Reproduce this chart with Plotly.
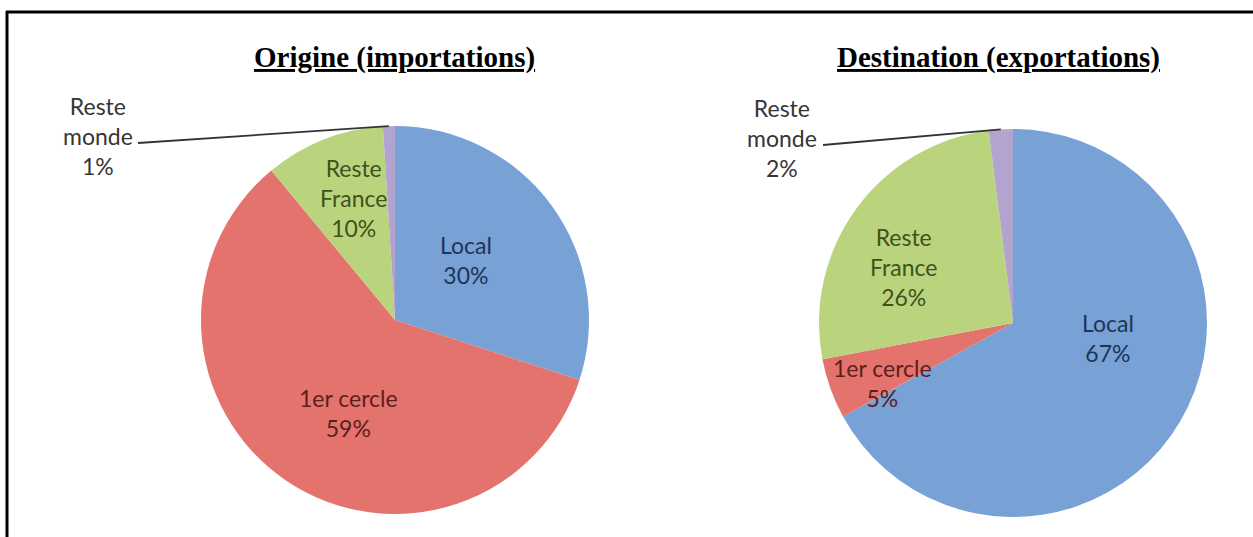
import math
import plotly.graph_objects as go

W, H = 1253, 537

# ---- data -------------------------------------------------------------
categories = ["Local", "1er cercle", "Reste France", "Reste monde"]
origine_pct = [30, 59, 10, 1]
destination_pct = [67, 5, 26, 2]
panel_titles = ["Origine (importations)", "Destination (exportations)"]

# ---- styles -----------------------------------------------------------
slice_colors = ["#78a1d6", "#e4736e", "#bad47e", "#b3a3cf"]
label_colors = ["#1d3556", "#5c1f1c", "#3f521a", "#363636"]
LABEL_FONT = "Lato"
TITLE_FONT = "Liberation Serif"

# pie placement in pixels: centre x, centre y, radius
PIES = [(395, 320, 194), (1013, 323, 194)]
TITLE_POS = [(394, 57), (998, 57)]

# label centres (pixels) for each category, per pie
LABEL_POS = [
    [(466, 260), (349, 413), (353, 198), (98, 136)],
    [(1108, 338), (882, 383), (903, 267), (782, 138)],
]
# left end of the leader line for the small outside slice
LEADER_START = [(138, 143), (823, 145)]


def fx(x):
    return x / W


def fy(y):
    return 1 - y / H


def label_text(name, pct):
    name = name.replace(" ", "<br>") if name.startswith("Reste") else name
    return f"{name}<br>{pct}%"


fig = go.Figure()
annotations = []
shapes = []

for i, values in enumerate([origine_pct, destination_pct]):
    cx, cy, r = PIES[i]
    fig.add_trace(go.Pie(
        labels=categories,
        values=values,
        sort=False,
        direction="clockwise",
        rotation=0,
        textinfo="none",
        marker=dict(colors=slice_colors, line=dict(width=0)),
        showlegend=False,
        domain=dict(x=[fx(cx - r), fx(cx + r)], y=[fy(cy + r), fy(cy - r)]),
    ))

    for j, (name, pct) in enumerate(zip(categories, values)):
        lx, ly = LABEL_POS[i][j]
        annotations.append(dict(
            x=fx(lx), y=fy(ly), xref="paper", yref="paper",
            text=label_text(name, pct), showarrow=False,
            xanchor="center", yanchor="middle", align="center",
            font=dict(family=LABEL_FONT, size=23, color=label_colors[j]),
        ))

    # leader line to the middle of the last (smallest) slice
    total = sum(values)
    mid = (total - values[-1] / 2) / total * 2 * math.pi
    ex, ey = cx + r * math.sin(mid), cy - r * math.cos(mid)
    sx, sy = LEADER_START[i]
    shapes.append(dict(type="line", xref="paper", yref="paper",
                       x0=fx(sx), y0=fy(sy), x1=fx(ex), y1=fy(ey),
                       line=dict(color="#333333", width=1.8)))

    tx, ty = TITLE_POS[i]
    annotations.append(dict(
        x=fx(tx), y=fy(ty), xref="paper", yref="paper",
        text=panel_titles[i], showarrow=False,
        xanchor="center", yanchor="middle",
        font=dict(family=TITLE_FONT, size=29, color="#000000",
                  weight="bold", lineposition="under"),
    ))

# frame around the figure block
shapes.append(dict(type="line", xref="paper", yref="paper",
                   x0=fx(6), y0=fy(12), x1=1, y1=fy(12),
                   line=dict(color="#000000", width=3)))
shapes.append(dict(type="line", xref="paper", yref="paper",
                   x0=fx(7), y0=fy(11), x1=fx(7), y1=0,
                   line=dict(color="#000000", width=3)))

fig.update_layout(
    width=W, height=H, autosize=False,
    margin=dict(l=0, r=0, t=0, b=0),
    paper_bgcolor="#ffffff", plot_bgcolor="#ffffff",
    annotations=annotations, shapes=shapes,
)

fig.write_html("out.html")
